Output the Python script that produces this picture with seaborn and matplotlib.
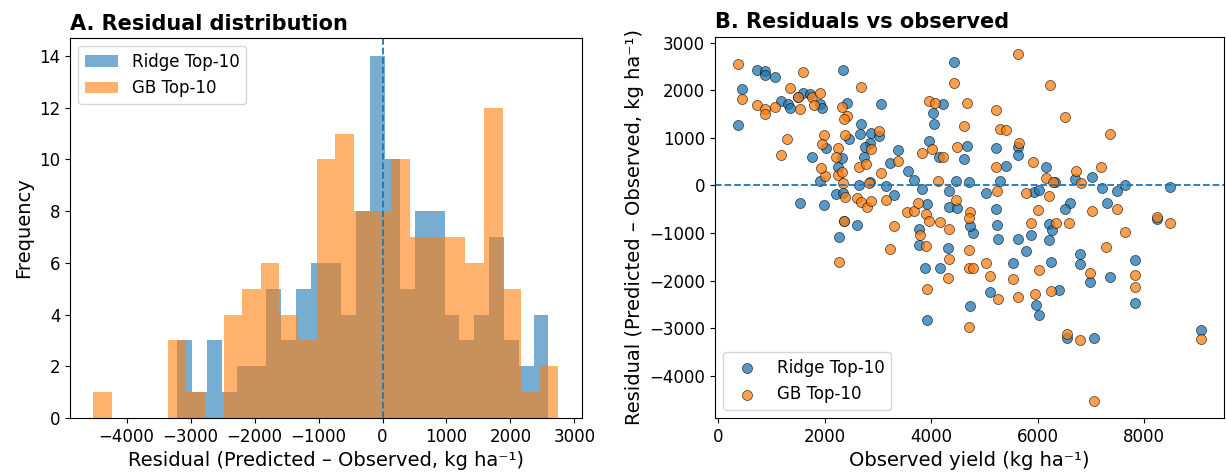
import numpy as np
import pandas as pd
import matplotlib
matplotlib.use("Agg")
import matplotlib.pyplot as plt
import seaborn as sns

# ---------------- Histogram data (bin counts, 25 bins each) ----------------
ridge_counts = [3, 1, 3, 1, 2, 2, 5, 3, 5, 6, 6, 4, 8, 14, 10, 5, 8, 8, 4, 3, 4, 7, 3, 2, 4]
gb_counts = [1, 0, 0, 0, 3, 1, 0, 4, 5, 6, 4, 3, 10, 11, 8, 8, 10, 7, 7, 7, 6, 12, 5, 1, 2]
ridge_range = (-3205, 2593)
gb_range = (-4520, 2750)

# ---------------- Scatter data: observed yield vs residual ----------------
ridge_obs = [374, 455, 735, 872, 872, 1058, 1170, 1307, 1344, 1493, 1593, 1730, 1916, 1954,
             1755, 2016, 1531, 1978, 1916, 2215, 2252, 2320, 2352, 2414, 2464, 2675, 2663,
             2862, 2849, 3023, 3061, 2750, 2737, 2650, 2849, 3160, 3297, 3235, 3372, 3558,
             3683, 3832, 3919, 3770, 3956, 4043, 4062, 4217, 4435, 4143, 4342, 4466, 4329,
             4479, 4665, 4615, 2277, 2600, 2352, 2364, 4715,
             5225, 5411, 5635, 5635, 6157, 6331, 6705, 7028, 7202, 7488, 7650, 8496, 5038,
             5299, 5934, 6021, 6605, 6506, 7302, 5225, 8235, 5237, 4777, 6220, 6269, 5871,
             5635, 5262,
             3770, 3881, 4168, 4317, 3919, 4727,
             4739, 5784, 6220, 6792, 6804, 6978, 7351, 7824, 7837, 5535, 6257, 6394, 5100,
             5971, 6033, 6555, 7053, 9068]
ridge_res = [1278, 2020, 2427, 2413, 2315, 2287, 1782, 1712, 1628, 1866, 1936, 1922, 1712, 1628,
             592, 788, -375, -410, 102, -186, 396, 585, 2427, 1740, 970, 1292, 1082,
             1096, 900, 1040, 1712, 802, 592, 11, 81, -3, -200, 480, 739, 298,
             109, -66, -396, -921, 942, 1516, 1292, 1712, 2595, 606, -108, 102, -459,
             -473, 830, 550, -1075, -823, -164, -739, 74,
             788, 410, 816, 634, 382, 74, 144, 172, -52, -108, 4, -38, -150,
             88, -136, -94, -361, -501, -361, -487, -697, -823, -1005, -809, -935, -1047,
             -1131, -1117,
             -1243, -1733, -1733, -1313, -2826, -2532,
             -851, -1383, -1145, -1439, -1649, -2027, -1929, -1565, -2476, -1621, -1607, -2196, -2238,
             -2518, -2728, -3204, -3204, -3036]

gb_obs = [374, 455, 735, 872, 872, 1058, 1294, 1170, 1344, 1531, 1593, 1755, 1792, 1904, 1493,
          1978, 1947, 2010, 1929, 2258, 2215, 2258, 2320, 2414, 2364, 2389, 2320, 2339, 2377,
          2364, 2600, 2675, 2650, 2775, 2675, 2862, 2837, 2799, 2862, 3023, 3054, 3148, 3297,
          3372, 3546, 3683, 3757, 3826, 3894, 3956, 4018, 4168, 4217, 4124, 4342, 4466, 3956,
          4068, 4435, 4479, 4615, 4665, 4733, 3782,
          5629, 6232, 5225, 5299, 5411, 6506, 7351, 5647, 5225, 5921, 6157, 6220, 5784, 6294,
          6717, 6817, 7190, 5237, 6008, 7028, 7488, 4715, 5871, 6344, 6593, 7650, 8496, 8235,
          2277, 3235, 3906, 4329, 4317, 3919, 4715, 4715, 4715,
          4789, 5038, 5100, 5262, 5535, 5635, 5958, 6033, 6257, 7289, 6978, 7824, 7837, 6543,
          6792, 7053, 9068]
gb_res = [2553, 1810, 1684, 1600, 1502, 1642, 970, 634, 2041, 1600, 2385, 1866, 1684, 1936, 1866,
          1068, 872, 200, 368, 788, 606, 214, 1642, 1460, 1390, 1054, 291, 60, -234,
          -739, -269, -340, 382, 452, 2062, 760, 46, -459, -318, 1145, 256, -305, -851,
          508, -550, -543, -375, 676, -599, -753, 760, -767, 592, 102, -921, -305, 1782,
          1740, 2146, 816, 1250, 1726, -550, -1040,
          2763, 2118, 1586, 1180, 1166, 1446, 1082, 900, 396, 494, 151, -220, -150, 74,
          312, 46, 396, -122, -515, -543, -487, -683, -781, -781, -781, -977, -795, -669,
          -1607, -1327, -1271, -1551, -1943, -2182, -1355, -1733, -2980,
          -1733, -1635, -1901, -2378, -1971, -2336, -2280, -1775, -2210, -1299, -1831, -1873, -2126, -3120,
          -3246, -4521, -3218]

labels = ["Ridge Top-10", "GB Top-10"]
colors = ["#1f77b4", "#ff7f0e"]

plt.rcParams.update({
    "font.family": ["DejaVu Sans"],
    "xtick.labelsize": 12,
    "ytick.labelsize": 12,
    "axes.labelsize": 14,
    "legend.fontsize": 12,
})

fig = plt.figure(figsize=(12.26, 4.75), dpi=100)
ax1 = fig.add_axes([0.0571, 0.1200, 0.4174, 0.8000])
ax2 = fig.add_axes([0.5832, 0.1200, 0.4152, 0.8030])

# Panel A: histogram
for counts, rng, lab, col in [(ridge_counts, ridge_range, labels[0], colors[0]),
                              (gb_counts, gb_range, labels[1], colors[1])]:
    edges = np.linspace(rng[0], rng[1], len(counts) + 1)
    centers = (edges[:-1] + edges[1:]) / 2
    df = pd.DataFrame({"resid": centers, "n": counts})
    sns.histplot(data=df, x="resid", weights="n", bins=edges.tolist(), color=col, alpha=0.6,
                 linewidth=0, label=lab, ax=ax1)
ax1.axvline(0, color=colors[0], ls="--", lw=1.3)
ax1.set_xlabel("Residual (Predicted – Observed, kg ha⁻¹)")
ax1.set_ylabel("Frequency")
ax1.set_title("A. Residual distribution", loc="left", fontsize=15, fontweight="bold")
ax1.legend(loc="upper left")

# Panel B: scatter
sdf_r = pd.DataFrame({"obs": ridge_obs, "res": ridge_res})
sdf_g = pd.DataFrame({"obs": gb_obs, "res": gb_res})
sns.scatterplot(data=sdf_r, x="obs", y="res", color=colors[0], alpha=0.75, s=52,
                edgecolor="k", linewidth=0.5, label=labels[0], ax=ax2)
sns.scatterplot(data=sdf_g, x="obs", y="res", color=colors[1], alpha=0.75, s=52,
                edgecolor="k", linewidth=0.5, label=labels[1], ax=ax2)
ax2.axhline(0, color=colors[0], ls="--", lw=1.3)
ax2.set_xlabel("Observed yield (kg ha⁻¹)")
ax2.set_ylabel("Residual (Predicted – Observed, kg ha⁻¹)")
ax2.set_title("B. Residuals vs observed", loc="left", fontsize=15, fontweight="bold")
ax2.legend(loc="lower left")

fig.savefig("out.png", dpi=100)
